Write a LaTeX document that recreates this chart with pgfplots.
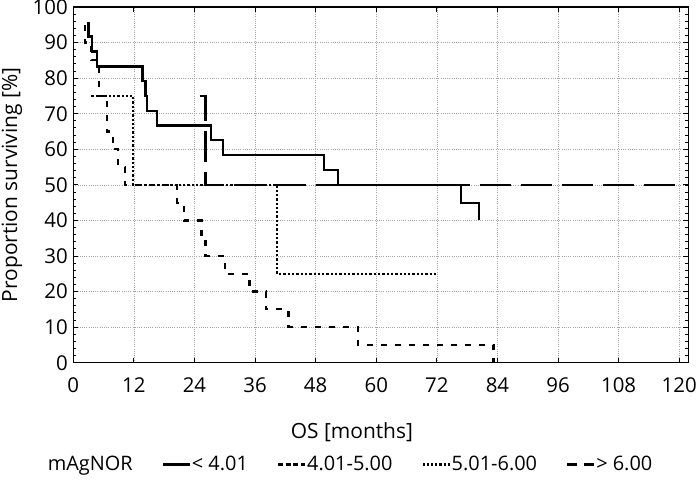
\documentclass[border=0pt]{standalone}
\usepackage{fontspec}
\setmainfont{Open Sans}
\usepackage{pgfplots}
\pgfplotsset{compat=1.18}
\begin{document}
\begin{tikzpicture}
\begin{axis}[
  name=ax,
  width=615bp, height=355.7bp, scale only axis,
  xmin=0, xmax=121.8, ymin=0, ymax=100,
  xtick={0,12,...,120}, ytick={0,10,...,100},
  minor y tick num=4,
  tick align=inside,
  major tick length=5bp, minor tick length=3bp,
  tick style={black, line width=0.9bp},
  axis line style={line width=1.2bp},
  grid=major,
  major grid style={gray!70, line width=0.6bp, dash pattern=on 1bp off 1.2bp},
  /pgf/number format/assume math mode=true,
  ticklabel style={font=\fontsize{20.5}{23}\selectfont},
  xticklabel style={yshift=-11bp},
  yticklabel style={xshift=-2bp},
  label style={font=\fontsize{21}{24}\selectfont},
  xlabel={OS [months]},
  ylabel={Proportion surviving [\%]},
  xlabel style={at={(axis description cs:0.453,-0.195)}, anchor=center},
  ylabel style={at={(axis description cs:-0.0997,0.5)}, anchor=center},
  legend columns=5,
  legend style={draw=none, fill=none, at={(0.45,-0.286)}, anchor=center,
    font=\fontsize{20}{23}\selectfont, inner sep=0pt,
    nodes={inner sep=1bp},
    /tikz/every odd column/.append style={column sep=0bp},
    /tikz/every even column/.append style={column sep=28bp}},
  legend image code/.code={\draw[#1] (0bp,0bp) -- (27bp,0bp);},
]
\addlegendimage{empty legend}
\addlegendentry{mAgNOR}
\addlegendimage{black, line width=2.2bp}
\addlegendentry{< 4.01}
\addlegendimage{black, line width=2.2bp, dash pattern=on 5bp off 2.5bp}
\addlegendentry{4.01-5.00}
\addlegendimage{black, line width=2.2bp, dash pattern=on 2.2bp off 2bp}
\addlegendentry{5.01-6.00}
\addlegendimage{black, line width=2.2bp, dash pattern=on 10bp off 7bp}
\addlegendentry{> 6.00}

% > 6.00
\addplot[black, line width=2.2bp, dash pattern=on 31bp off 10bp, forget plot]
  coordinates {(25.0,75)(26.2,75)(26.2,50)(121.8,50)};
% 5.01-6.00
\addplot[black, line width=2.2bp, dash pattern=on 2.3bp off 2bp, forget plot]
  coordinates {(3.6,75)(11.9,75)(11.9,50)(40.4,50)(40.4,25)(72.0,25)};
% 4.01-5.00
\addplot[black, line width=2.2bp, dash pattern=on 6bp off 8bp, forget plot]
  coordinates {(2.3,95)(2.3,90)(3.6,90)(3.6,85)(5.1,85)(5.1,75)(6.6,75)(6.6,65)
  (7.9,65)(7.9,60)(8.9,60)(8.9,55)(10.2,55)(10.2,50)(20.6,50)(20.6,45)(21.9,45)
  (21.9,40)(25.4,40)(25.4,35)(26.2,35)(26.2,30)(30.0,30)(30.0,25)(34.9,25)
  (34.9,20)(38.2,20)(38.2,15)(42.6,15)(42.6,10)(56.4,10)(56.4,5)(83.2,5)(83.2,0)};
% < 4.01
\addplot[black, line width=2.2bp, forget plot]
  coordinates {(3.0,95.8)(3.0,91.7)(3.7,91.7)(3.7,87.5)(4.7,87.5)(4.7,83.3)
  (13.7,83.3)(13.7,79.2)(14.3,79.2)(14.3,75.0)(14.6,75.0)(14.6,70.8)(16.5,70.8)
  (16.5,66.7)(27.2,66.7)(27.2,62.5)(29.7,62.5)(29.7,58.3)(49.6,58.3)(49.6,54.2)
  (52.4,54.2)(52.4,50.0)(76.8,50.0)(76.8,45.0)(80.3,45.0)(80.3,40.0)};
\end{axis}
\pgfresetboundingbox
\path ([shift={(-73.3bp,-118.3bp)}]ax.south west) rectangle ([shift={(10.7bp,7bp)}]ax.north east);
\end{tikzpicture}
\end{document}
